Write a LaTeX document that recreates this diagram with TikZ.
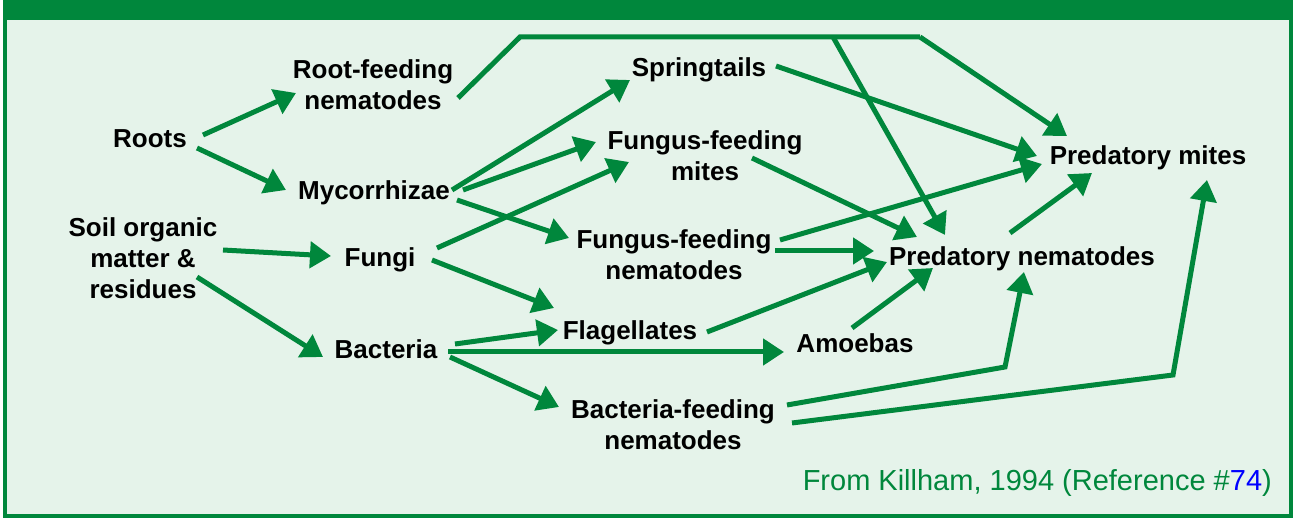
\documentclass[tikz,border=0pt]{standalone}
\usepackage{fontspec}
\setmainfont{Liberation Sans}
\usetikzlibrary{arrows.meta}
\definecolor{dgreen}{RGB}{0,135,60}
\definecolor{pale}{RGB}{229,243,234}
\definecolor{refblue}{RGB}{0,0,255}
\newcommand{\twolines}[2]{\begin{tabular}[t]{@{}c@{}}#1\\#2\end{tabular}}
\newcommand{\threelines}[3]{\begin{tabular}[t]{@{}c@{}}#1\\#2\\#3\end{tabular}}
\tikzset{
  lbl/.style={anchor=base, inner sep=0pt, font=\fontsize{26}{31}\selectfont\bfseries, text=black},
  link/.style={draw=dgreen, line width=5pt, -{Triangle[length=21pt,width=26pt]}},
  plain/.style={draw=dgreen, line width=5pt, line join=miter},
}
\begin{document}
\begin{tikzpicture}[x=1pt,y=-1pt]
\useasboundingbox (0,0) rectangle (1296,518);
\fill[white] (0,0) rectangle (1296,518);
% frame
\fill[pale] (5,18) rectangle (1291,516);
\draw[dgreen, line width=4pt] (5,18) rectangle (1291,516);
\fill[dgreen] (3,0) rectangle (1293,18);

% nodes
\node[lbl] (rfn) at (373,79) {\twolines{Root-feeding}{nematodes}};
\node[lbl] (roots) at (150,148) {Roots};
\node[lbl] (myc) at (374,200) {Mycorrhizae};
\node[lbl] (som) at (143,237) {\threelines{Soil organic}{matter \&}{residues}};
\node[lbl] (fungi) at (380,267) {Fungi};
\node[lbl] (bact) at (386,359) {Bacteria};
\node[lbl] (spring) at (699,77) {Springtails};
\node[lbl] (ffm) at (705,150) {\twolines{Fungus-feeding}{mites}};
\node[lbl] (ffn) at (674,249) {\twolines{Fungus-feeding}{nematodes}};
\node[lbl] (flag) at (630,340) {Flagellates};
\node[lbl] (amoe) at (855,353) {Amoebas};
\node[lbl] (bfn) at (673,419) {\twolines{Bacteria-feeding}{nematodes}};
\node[lbl] (pn) at (1022,266) {Predatory nematodes};
\node[lbl] (pm) at (1148,165) {Predatory mites};
\node[anchor=base east, inner sep=0pt, font=\fontsize{29}{34}\selectfont, text=dgreen] (src) at (1272,490) {From Killham, 1994 (Reference \#\textcolor{refblue}{74})};

% connector end points
\coordinate (roots-a) at (203,135); \coordinate (rfn-in) at (296,93);
\coordinate (roots-b) at (197,148); \coordinate (myc-in) at (286,190);
\coordinate (som-a) at (223,250); \coordinate (fungi-in) at (331,256);
\coordinate (som-b) at (197,277); \coordinate (bact-in) at (323,357);
\coordinate (rfn-out) at (458,98);
\coordinate (top-l) at (520,37); \coordinate (top-m) at (833,37); \coordinate (top-r) at (920,37);
\coordinate (pm-in1) at (1067,136);
\coordinate (pn-in1) at (945,235);
\coordinate (myc-a) at (452,190); \coordinate (spring-in) at (630,80);
\coordinate (myc-b) at (463,190); \coordinate (ffm-in1) at (596,142);
\coordinate (myc-c) at (457,200); \coordinate (ffn-in) at (569,238);
\coordinate (fungi-a) at (437,248); \coordinate (ffm-in2) at (629,162);
\coordinate (fungi-b) at (432,260); \coordinate (flag-in1) at (554,308);
\coordinate (bact-a) at (455,344); \coordinate (flag-in2) at (558,330);
\coordinate (bact-b) at (448,352); \coordinate (amoe-in) at (784,352);
\coordinate (bact-c) at (450,357); \coordinate (bfn-in) at (559,407);
\coordinate (spring-out) at (776,66); \coordinate (pm-in2) at (1037,156);
\coordinate (ffm-out) at (752,158); \coordinate (pn-in2) at (917,237);
\coordinate (ffn-a) at (780,240); \coordinate (pm-in3) at (1042,164);
\coordinate (ffn-b) at (775,251); \coordinate (pn-in3) at (874,251);
\coordinate (flag-out) at (707,332); \coordinate (pn-in4) at (887,262);
\coordinate (amoe-out) at (852,328); \coordinate (pn-in5) at (933,268);
\coordinate (pn-out) at (1010,233); \coordinate (pm-in4) at (1092,173);
\coordinate (bfn-a) at (787,405); \coordinate (bend-a) at (1005,367); \coordinate (pn-in6) at (1024,272);
\coordinate (bfn-b) at (792,423); \coordinate (bend-b) at (1173,375); \coordinate (pm-in5) at (1207,180);

% connectors
\draw[link] (roots-a) -- (rfn-in);
\draw[link] (roots-b) -- (myc-in);
\draw[link] (som-a) -- (fungi-in);
\draw[link] (som-b) -- (bact-in);
\draw[plain] (rfn-out) -- (top-l) -- (top-r);
\draw[link] (top-r) -- (pm-in1);
\draw[link] (top-m) -- (pn-in1);
\draw[link] (myc-a) -- (spring-in);
\draw[link] (myc-b) -- (ffm-in1);
\draw[link] (myc-c) -- (ffn-in);
\draw[link] (fungi-a) -- (ffm-in2);
\draw[link] (fungi-b) -- (flag-in1);
\draw[link] (bact-a) -- (flag-in2);
\draw[link] (bact-b) -- (amoe-in);
\draw[link] (bact-c) -- (bfn-in);
\draw[link] (spring-out) -- (pm-in2);
\draw[link] (ffm-out) -- (pn-in2);
\draw[link] (ffn-a) -- (pm-in3);
\draw[link] (ffn-b) -- (pn-in3);
\draw[link] (flag-out) -- (pn-in4);
\draw[link] (amoe-out) -- (pn-in5);
\draw[link] (pn-out) -- (pm-in4);
\draw[link] (bfn-a) -- (bend-a) -- (pn-in6);
\draw[link] (bfn-b) -- (bend-b) -- (pm-in5);
\end{tikzpicture}
\end{document}
